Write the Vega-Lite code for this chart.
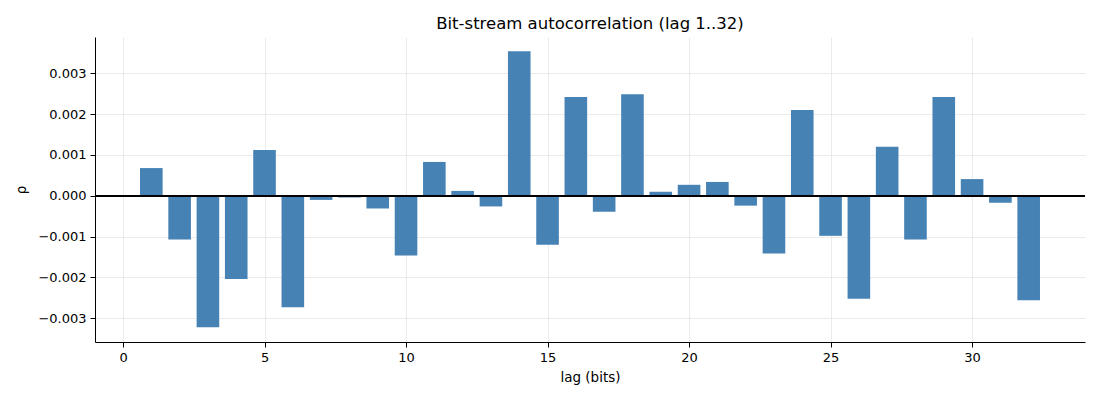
{
  "$schema": "https://vega.github.io/schema/vega-lite/v6.json",
  "autosize": "none",
  "width": 990,
  "height": 305,
  "padding": {"left": 95, "top": 37, "right": 15, "bottom": 58},
  "background": "white",
  "title": {
    "text": "Bit-stream autocorrelation (lag 1..32)",
    "font": "DejaVu Sans",
    "fontSize": 16.5,
    "fontWeight": "normal",
    "color": "black",
    "offset": 5
  },
  "config": {
    "view": {"stroke": null},
    "axis": {
      "labelFont": "DejaVu Sans",
      "titleFont": "DejaVu Sans",
      "labelFontSize": 13,
      "titleFontSize": 13.5,
      "titleFontWeight": "normal",
      "labelColor": "black",
      "titleColor": "black",
      "domainColor": "black",
      "tickColor": "black",
      "tickSize": 5,
      "labelPadding": 4,
      "gridColor": "#e6e6e6",
      "gridWidth": 0.8
    }
  },
  "data": {
    "values": [
      {"lag": 1, "rho": 0.00068},
      {"lag": 2, "rho": -0.00107},
      {"lag": 3, "rho": -0.00322},
      {"lag": 4, "rho": -0.00204},
      {"lag": 5, "rho": 0.00112},
      {"lag": 6, "rho": -0.00273},
      {"lag": 7, "rho": -0.0001},
      {"lag": 8, "rho": -0.00004},
      {"lag": 9, "rho": -0.00031},
      {"lag": 10, "rho": -0.00146},
      {"lag": 11, "rho": 0.00083},
      {"lag": 12, "rho": 0.00012},
      {"lag": 13, "rho": -0.00026},
      {"lag": 14, "rho": 0.00354},
      {"lag": 15, "rho": -0.0012},
      {"lag": 16, "rho": 0.00242},
      {"lag": 17, "rho": -0.00039},
      {"lag": 18, "rho": 0.00249},
      {"lag": 19, "rho": 0.0001},
      {"lag": 20, "rho": 0.00027},
      {"lag": 21, "rho": 0.00034},
      {"lag": 22, "rho": -0.00024},
      {"lag": 23, "rho": -0.00141},
      {"lag": 24, "rho": 0.0021},
      {"lag": 25, "rho": -0.00098},
      {"lag": 26, "rho": -0.00252},
      {"lag": 27, "rho": 0.0012},
      {"lag": 28, "rho": -0.00107},
      {"lag": 29, "rho": 0.00242},
      {"lag": 30, "rho": 0.00041},
      {"lag": 31, "rho": -0.00017},
      {"lag": 32, "rho": -0.00256}
    ]
  },
  "layer": [
    {
      "mark": {"type": "bar", "color": "#4682b4", "size": 22.6},
      "encoding": {
        "x": {
          "field": "lag",
          "type": "quantitative",
          "title": "lag (bits)",
          "scale": {"domain": [-0.99, 33.99], "nice": false, "zero": false, "padding": 0},
          "axis": {"values": [0, 5, 10, 15, 20, 25, 30], "format": "d", "titlePadding": 6}
        },
        "y": {
          "field": "rho",
          "type": "quantitative",
          "title": "ρ",
          "scale": {"domain": [-0.00358, 0.00389], "nice": false, "padding": 0},
          "axis": {
            "values": [-0.003, -0.002, -0.001, 0, 0.001, 0.002, 0.003],
            "format": ".3f",
            "titlePadding": 9
          }
        }
      }
    },
    {
      "mark": {"type": "rule", "color": "black", "strokeWidth": 0.8},
      "encoding": {"y": {"datum": 0}}
    }
  ]
}
